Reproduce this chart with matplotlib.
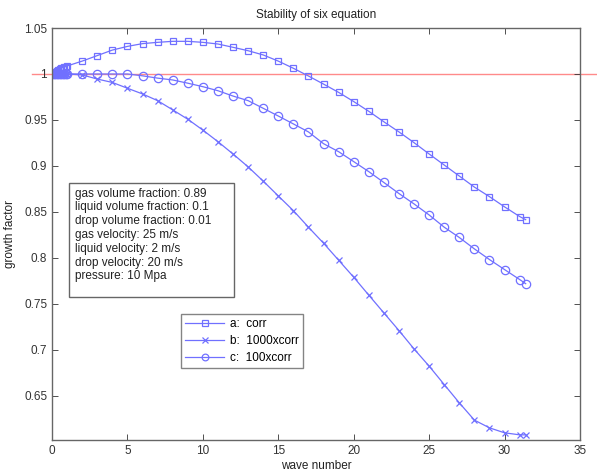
import matplotlib
matplotlib.use('Agg')
import matplotlib.pyplot as plt
from matplotlib.ticker import FuncFormatter

plt.rcParams['font.family'] = ['Liberation Sans', 'DejaVu Sans']

# --------------------------------------------------
# DATA
# --------------------------------------------------

wave = [0.0, 0.1, 0.2, 0.3, 0.4, 0.5, 0.6, 0.7, 0.8, 0.9,
        1, 2, 3, 4, 5, 6, 7, 8, 9, 10,
        11, 12, 13, 14, 15, 16, 17, 18, 19, 20,
        21, 22, 23, 24, 25, 26, 27, 28, 29, 30,
        31, 31.4]

corr = [1.000, 1.001, 1.002, 1.003, 1.004, 1.005, 1.006, 1.007, 1.0075, 1.008,
        1.0087, 1.014, 1.020, 1.026, 1.030, 1.033, 1.0344, 1.0355, 1.0355, 1.0344,
        1.0326, 1.029, 1.0253, 1.0207, 1.014, 1.0062, 0.9978, 0.989, 0.980, 0.970,
        0.9594, 0.948, 0.937, 0.9253, 0.913, 0.901, 0.889, 0.877, 0.8666, 0.8555,
        0.845, 0.8416]

corr1000 = [1.000, 1.000, 1.000, 1.000, 1.000, 1.000, 1.000, 1.000, 1.000, 1.000,
            1.000, 0.999, 0.9945, 0.9908, 0.9845, 0.9783, 0.971, 0.961, 0.9508, 0.939,
            0.9264, 0.913, 0.8990, 0.8835, 0.8674, 0.8514, 0.8334, 0.816, 0.7975, 0.779,
            0.7595, 0.7402, 0.7210, 0.701, 0.6823, 0.6623, 0.6424, 0.6236, 0.6152, 0.6098,
            0.6076, 0.6076]

corr100 = [1.000, 1.000, 1.000, 1.000, 1.000, 1.000, 1.000, 1.000, 1.000, 1.000,
           1.000, 1.000, 1.000, 1.000, 1.000, 0.998, 0.9955, 0.9935, 0.990, 0.9862,
           0.9818, 0.976, 0.971, 0.9627, 0.9543, 0.9457, 0.937, 0.9242, 0.9155, 0.9047,
           0.8938, 0.882, 0.870, 0.8587, 0.8467, 0.8334, 0.8222, 0.8098, 0.7982, 0.7873,
           0.7765, 0.772]

labels = ['a:  corr', 'b:  1000xcorr', 'c:  100xcorr']

info = ['gas volume fraction: 0.89',
        'liquid volume fraction: 0.1',
        'drop volume fraction: 0.01',
        'gas velocity: 25 m/s',
        'liquid velocity: 2 m/s',
        'drop velocity: 20 m/s',
        'pressure: 10 Mpa']

# --------------------------------------------------
# PLOT
# --------------------------------------------------

blue = '#7070ff'
fig = plt.figure(figsize=(5.97, 4.73), dpi=100)
ax = fig.add_axes([0.0871, 0.0698, 0.8844, 0.871])

ax.plot(wave, corr, '-s', color=blue, lw=0.9, ms=4.6, mfc='none', mew=0.9, label=labels[0])
ax.plot(wave, corr1000, '-x', color=blue, lw=0.9, ms=5, mew=0.9, label=labels[1])
ax.plot(wave, corr100, '-o', color=blue, lw=0.9, ms=6, mfc='none', mew=0.9, label=labels[2])

# neutral stability line, runs past the axes
ax.plot([-1.35, 36.3], [1.0, 1.0], color='#ff8a8a', lw=1.0, clip_on=False, zorder=1)

ax.set_xlim(0, 35)
ax.set_ylim(0.602, 1.05)
ax.set_xticks([0, 5, 10, 15, 20, 25, 30, 35])
ax.set_yticks([0.65, 0.7, 0.75, 0.8, 0.85, 0.9, 0.95, 1.0, 1.05])
ax.yaxis.set_major_formatter(FuncFormatter(lambda v, p: f'{v:g}'))

ax.tick_params(direction='in', top=True, right=True, labelsize=8.5,
               colors='#333333', length=4, width=0.6)
for s in ax.spines.values():
    s.set_color('#666666')
    s.set_linewidth(1.0)

ax.set_title('Stability of six equation', fontsize=8.5, color='#222222', pad=7)
ax.set_xlabel('wave number', fontsize=8.5, color='#222222', labelpad=2)
ax.set_ylabel('growth factor', fontsize=8.5, color='#222222', labelpad=6)

# parameter box
ax.text(1.52, 0.8765, '\n'.join(info), fontsize=8.5, va='top', ha='left',
        linespacing=1.2, color='#222222', zorder=4)
ax.add_patch(plt.Rectangle((1.13, 0.758), 10.93, 0.1232, fc='white',
                           ec='#666666', lw=1.0, zorder=3))

leg = ax.legend(loc='upper left', bbox_to_anchor=(0.2443, 0.3058), fontsize=8.5,
                frameon=True, fancybox=False, edgecolor='#666666',
                handlelength=3.3, handletextpad=0.5, borderpad=0.35,
                borderaxespad=0, labelspacing=0.42, markerscale=0.8)
leg.get_frame().set_linewidth(1.0)

fig.savefig('out.png', dpi=100)
